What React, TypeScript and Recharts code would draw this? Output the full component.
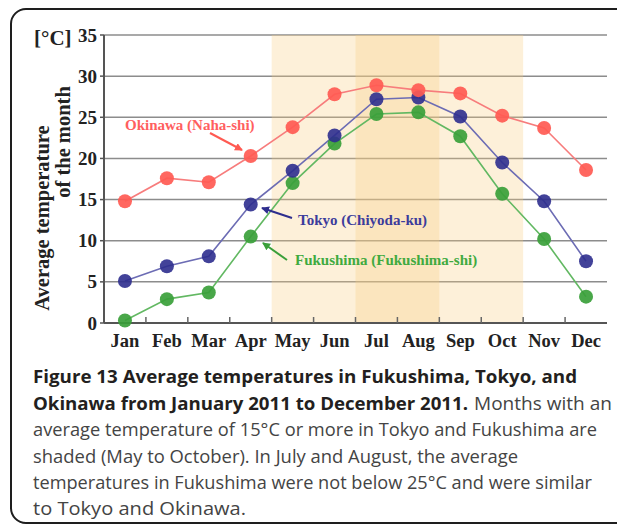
import React from "react";
import {
  LineChart,
  Line,
  XAxis,
  YAxis,
  CartesianGrid,
  ReferenceArea,
} from "recharts";

const months = ["Jan", "Feb", "Mar", "Apr", "May", "Jun", "Jul", "Aug", "Sep", "Oct", "Nov", "Dec"];
const okinawa = [14.8, 17.6, 17.1, 20.3, 23.8, 27.8, 28.9, 28.3, 27.9, 25.2, 23.7, 18.6];
const tokyo = [5.1, 6.9, 8.1, 14.4, 18.5, 22.8, 27.2, 27.4, 25.1, 19.5, 14.8, 7.5];
const fukushima = [0.3, 2.9, 3.7, 10.5, 17.0, 21.8, 25.4, 25.6, 22.7, 15.7, 10.2, 3.2];
const yTicks = [0, 5, 10, 15, 20, 25, 30, 35];

const data = months.map((m, i) => ({
  m,
  okinawa: okinawa[i],
  tokyo: tokyo[i],
  fukushima: fukushima[i],
}));

const W = 617;
const H = 360;
const MARGIN = { top: 27, right: 18, bottom: 0, left: 0 };
const YW = 96;
const BAND = (W - MARGIN.right - YW) / months.length;

const SERIF = "'Liberation Serif', 'Times New Roman', serif";
const SANS = "'Open Sans', 'Noto Sans', sans-serif";

const C_OK = "#FF5A52";
const C_OK_LINE = "#F77C7C";
const C_TK = "#2E2E8E";
const C_TK_LINE = "#6C6CB4";
const C_FK = "#3A9F3A";
const C_FK_LINE = "#62B862";

const XTick = (props: any) => {
  const { x, y, payload, index } = props;
  const off = payload && typeof payload.offset === "number" && payload.offset > 0 ? payload.offset : BAND / 2;
  return (
    <g>
      {index > 0 && (
        <line x1={x - off} x2={x - off} y1={y} y2={y - 6} stroke="#666" strokeWidth={1.5} />
      )}
      <text
        x={x}
        y={y + 24}
        textAnchor="middle"
        fontFamily={SERIF}
        fontWeight="bold"
        fontSize={18.5}
        fill="#222"
      >
        {payload.value}
      </text>
    </g>
  );
};

const YTick = (props: any) => {
  const { x, y, payload } = props;
  return (
    <text
      x={x}
      y={y + 6.5}
      textAnchor="end"
      fontFamily={SERIF}
      fontWeight="bold"
      fontSize={19}
      fill="#222"
    >
      {payload.value}
    </text>
  );
};

export default function App() {
  return (
    <div style={{ position: "relative", width: W, height: 520, overflow: "hidden" }}>
      <div
        style={{
          position: "absolute",
          left: 2,
          top: 0,
          width: 700,
          height: 516,
          boxSizing: "border-box",
          border: "2px solid #1e1e1e",
          borderRadius: 16,
        }}
      />
      <div style={{ position: "absolute", left: 0, top: 0 }}>
        <LineChart width={W} height={H} data={data} margin={MARGIN}>
          <ReferenceArea x1="May" x2="Oct" fill="#F8CD80" fillOpacity={0.3} stroke="none" />
          <ReferenceArea x1="Jul" x2="Aug" fill="#F8CD80" fillOpacity={0.3} stroke="none" />
          <CartesianGrid vertical={false} stroke="#8c8c8c" strokeWidth={1.5} />
          <XAxis
            dataKey="m"
            type="category"
            scale="band"
            height={45}
            tickLine={false}
            tickSize={0}
            tickMargin={0}
            axisLine={{ stroke: "#555", strokeWidth: 2 }}
            tick={<XTick />}
            interval={0}
          />
          <XAxis
            xAxisId="top"
            dataKey="m"
            type="category"
            scale="band"
            orientation="top"
            height={0}
            tick={false}
            tickLine={false}
            axisLine={{ stroke: "#999", strokeWidth: 1.5 }}
          />
          <YAxis
            width={YW}
            domain={[0, 35]}
            ticks={yTicks}
            interval={0}
            tickSize={4}
            tickMargin={3}
            tickLine={{ stroke: "#555", strokeWidth: 1.5 }}
            axisLine={{ stroke: "#555", strokeWidth: 2 }}
            tick={<YTick />}
          />
          <YAxis
            yAxisId="right"
            orientation="right"
            width={0}
            domain={[0, 35]}
            tick={false}
            tickLine={false}
            axisLine={{ stroke: "#999", strokeWidth: 1.5 }}
          />
          <Line
            dataKey="fukushima"
            type="linear"
            stroke={C_FK_LINE}
            strokeWidth={1.6}
            dot={{ r: 7, fill: C_FK, stroke: "none", fillOpacity: 0.92 }}
            activeDot={false}
            isAnimationActive={false}
          />
          <Line
            dataKey="tokyo"
            type="linear"
            stroke={C_TK_LINE}
            strokeWidth={1.6}
            dot={{ r: 7, fill: C_TK, stroke: "none", fillOpacity: 0.9 }}
            activeDot={false}
            isAnimationActive={false}
          />
          <Line
            dataKey="okinawa"
            type="linear"
            stroke={C_OK_LINE}
            strokeWidth={1.6}
            dot={{ r: 7, fill: C_OK, stroke: "none", fillOpacity: 0.92 }}
            activeDot={false}
            isAnimationActive={false}
          />
        </LineChart>
      </div>
      <svg
        width={W}
        height={520}
        style={{ position: "absolute", left: 0, top: 0, pointerEvents: "none" }}
      >
        <defs>
          <marker id="arR" markerWidth="8" markerHeight="8" refX="7" refY="4" orient="auto" markerUnits="userSpaceOnUse">
            <path d="M0,0 L8,4 L0,8 Z" fill={C_OK} />
          </marker>
          <marker id="arB" markerWidth="8" markerHeight="8" refX="7" refY="4" orient="auto" markerUnits="userSpaceOnUse">
            <path d="M0,0 L8,4 L0,8 Z" fill={C_TK} />
          </marker>
          <marker id="arG" markerWidth="8" markerHeight="8" refX="7" refY="4" orient="auto" markerUnits="userSpaceOnUse">
            <path d="M0,0 L8,4 L0,8 Z" fill={C_FK} />
          </marker>
        </defs>
        <text x={26} y={37} fontFamily={SERIF} fontWeight="bold" fontSize={21} fill="#222">
          [°C]
        </text>
        <text
          transform="translate(41,210) rotate(-90)"
          textAnchor="middle"
          fontFamily={SERIF}
          fontWeight="bold"
          fontSize={20.5}
          fill="#222"
        >
          Average temperature
        </text>
        <text
          transform="translate(62,134) rotate(-90)"
          textAnchor="middle"
          fontFamily={SERIF}
          fontWeight="bold"
          fontSize={20.5}
          fill="#222"
        >
          of the month
        </text>

        <text x={117} y={122} fontFamily={SERIF} fontWeight="bold" fontSize={15} fill="#FF5F5F">
          Okinawa (Naha-shi)
        </text>
        <line x1={202} y1={125} x2={234} y2={142} stroke={C_OK} strokeWidth={2} markerEnd="url(#arR)" />

        <text x={290} y={217} fontFamily={SERIF} fontWeight="bold" fontSize={15} fill="#3C3C9C">
          Tokyo (Chiyoda-ku)
        </text>
        <line x1={284} y1={210} x2={254} y2={200} stroke={C_TK} strokeWidth={2} markerEnd="url(#arB)" />

        <text x={287} y={257} fontFamily={SERIF} fontWeight="bold" fontSize={15} fill="#40AA40">
          Fukushima (Fukushima-shi)
        </text>
        <line x1={279} y1={252} x2={255} y2={235} stroke={C_FK} strokeWidth={2} markerEnd="url(#arG)" />

        <g fontFamily={SANS} fontSize={18}>
          <text x={25} y={375} fontWeight="bold" fill="#231F20" textLength={544} lengthAdjust="spacingAndGlyphs">
            Figure 13 Average temperatures in Fukushima, Tokyo, and
          </text>
          <text x={25} y={402} fontWeight="bold" fill="#231F20" textLength={435} lengthAdjust="spacingAndGlyphs">
            Okinawa from January 2011 to December 2011.
          </text>
          <text x={466} y={402} fill="#444" textLength={138} lengthAdjust="spacingAndGlyphs">
            Months with an
          </text>
          <text x={25} y={428} fill="#444" textLength={564} lengthAdjust="spacingAndGlyphs">
            average temperature of 15°C or more in Tokyo and Fukushima are
          </text>
          <text x={25} y={455} fill="#444" textLength={485} lengthAdjust="spacingAndGlyphs">
            shaded (May to October). In July and August, the average
          </text>
          <text x={25} y={481} fill="#444" textLength={559} lengthAdjust="spacingAndGlyphs">
            temperatures in Fukushima were not below 25°C and were similar
          </text>
          <text x={25} y={507} fill="#444" textLength={213} lengthAdjust="spacingAndGlyphs">
            to Tokyo and Okinawa.
          </text>
        </g>
      </svg>
    </div>
  );
}
